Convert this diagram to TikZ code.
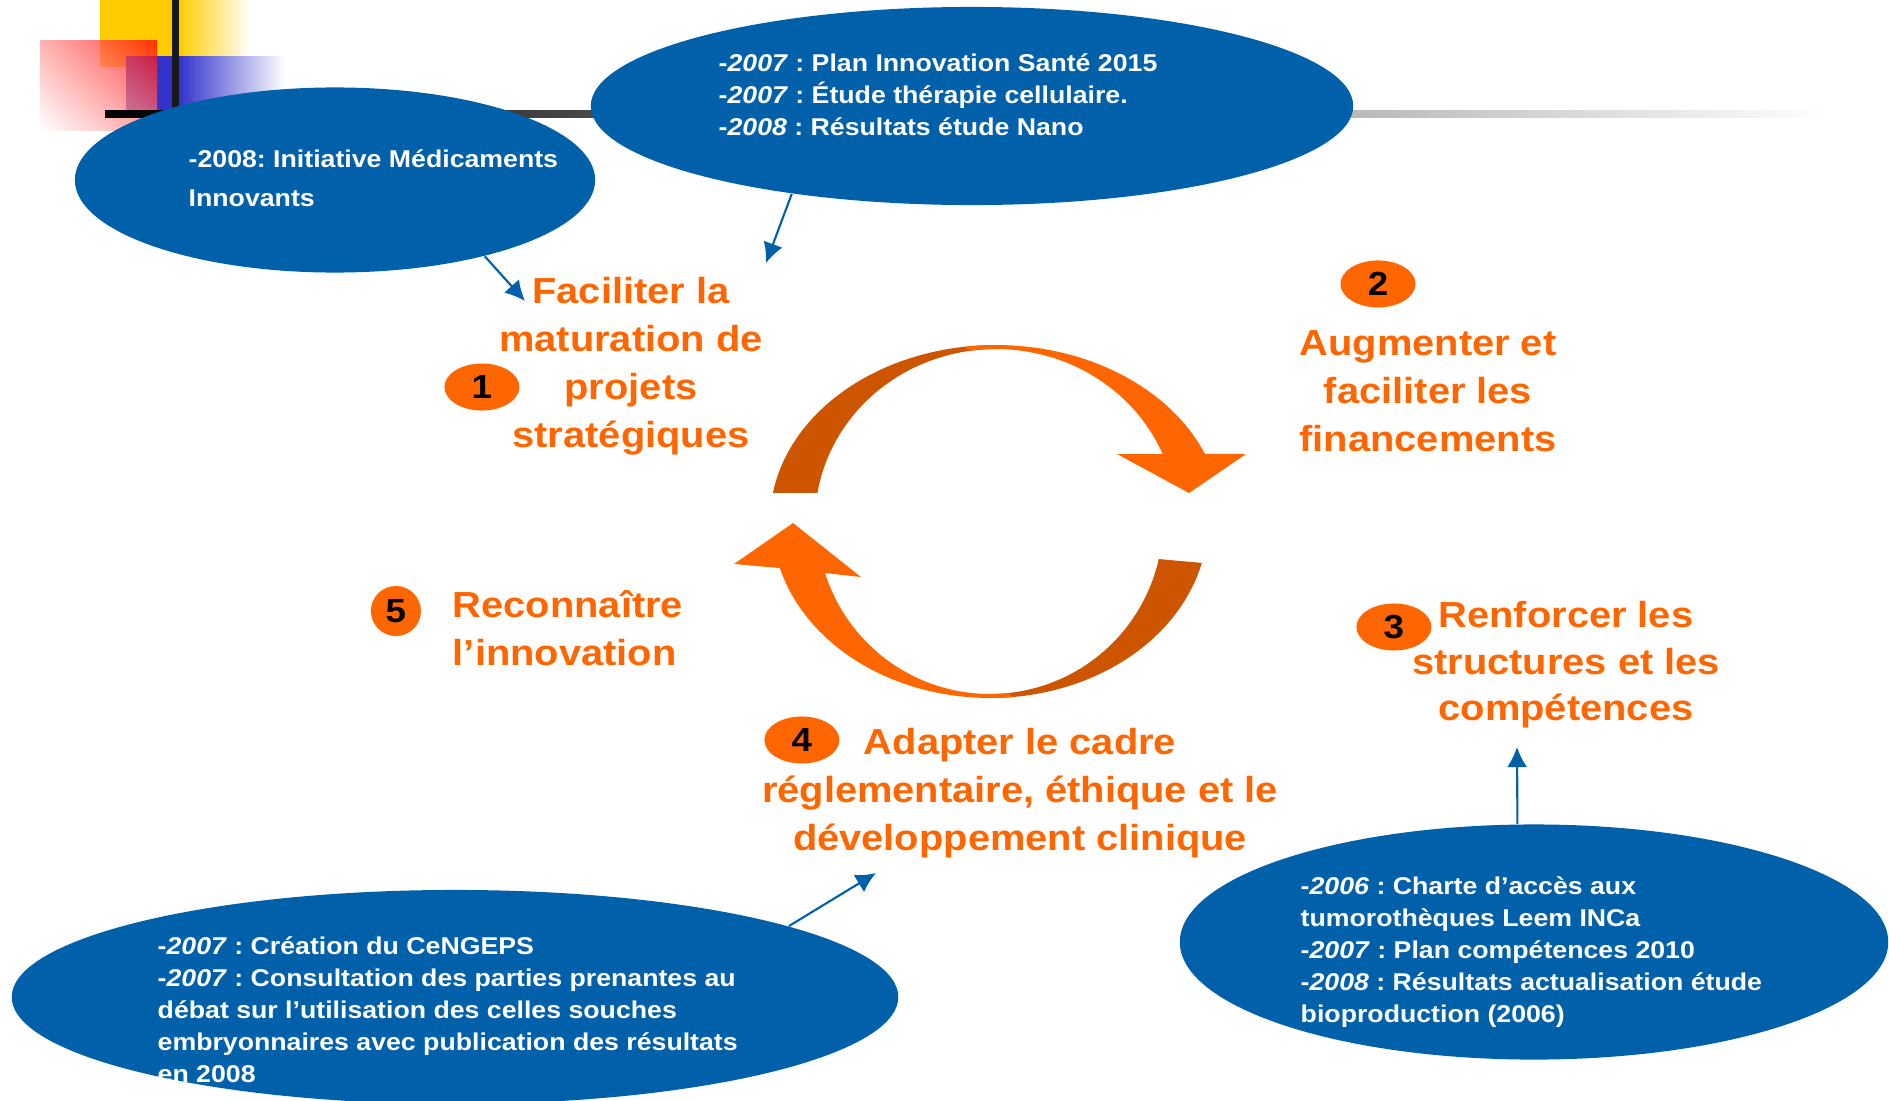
\documentclass[tikz,border=0pt]{standalone}
\usepackage{fontspec}
\setmainfont{Liberation Sans}[FakeStretch=1.1]
\usetikzlibrary{shapes.geometric, arrows.meta, positioning, shadings}
\frenchspacing

\definecolor{blobblue}{RGB}{0,96,170}
\definecolor{goalorange}{RGB}{255,102,0}
\definecolor{cycdark}{RGB}{205,85,0}
\definecolor{deckyellow}{RGB}{255,204,0}
\definecolor{deckblue}{RGB}{51,51,204}

\begin{document}
\begin{tikzpicture}[x=0.01cm, y=-0.01cm]
% one unit = one pixel of the slide, y pointing down

\tikzstyle{blob}	= [shape = ellipse, fill = blobblue, inner sep = 0] % blue bubble
\tikzstyle{note}	= [text = white, anchor = west, align = left, inner sep = 0, font = \fontsize{6.9}{9.1}\selectfont\bfseries] % text in bubble
\tikzstyle{goal}	= [text = goalorange, align = center, inner sep = 0, font = \fontsize{10.3}{13.7}\selectfont\bfseries] % orange headline
\tikzstyle{badge}	= [shape = ellipse, fill = goalorange, inner sep = 0, minimum width = 0.75cm, minimum height = 0.47cm, font = \fontsize{9.5}{9.5}\selectfont\bfseries] % number tag
\tikzstyle{link}	= [draw = blobblue, line width = 0.6pt, -{Latex[length = 0.2cm, width = 0.2cm]}] % define standard arrow

\useasboundingbox (0,0) rectangle (1889,1100);

% slide decoration top left
\fill[deckyellow] (100,0) rectangle (172,67);
\shade[left color=deckyellow, right color=white] (179,0) rectangle (250,56);
\fill[deckblue] (126,56) rectangle (172,110);
\shade[left color=deckblue, right color=white] (179,56) rectangle (285,110);
\shade[upper right=red, upper left=red!40, lower right=red!50, lower left=white, opacity=0.75] (40,40) rectangle (157,130);
\shade[left color=black, middle color=black!25, right color=white] (105,110) rectangle (1830,117);
\fill[black!90] (172,0) rectangle (179,110);

% blue bubbles
\node(e1)[blob, minimum width=5.2cm, minimum height=1.85cm] at (335,180){};
\node(e2)[blob, minimum width=7.62cm, minimum height=1.98cm] at (972,106){};
\node(e3)[blob, minimum width=8.86cm, minimum height=2.14cm] at (455,997){};
\node(e4)[blob, minimum width=7.08cm, minimum height=2.35cm] at (1534,942){};

% bubble texts
\node(n1)[note, font=\fontsize{6.9}{10.95}\selectfont\bfseries] at (188,178){-2008: Initiative Médicaments\\Innovants};
\node(n2)[note] at (718,95){-\textit{2007} : Plan Innovation Santé 2015\\-\textit{2007} : Étude thérapie cellulaire.\\-\textit{2008} : Résultats étude Nano};
\node(n3)[note] at (157,1010){-\textit{2007} : Création du CeNGEPS\\-\textit{2007} : Consultation des parties prenantes au\\débat sur l’utilisation des celles souches\\embryonnaires avec publication des résultats\\en 2008};
\node(n4)[note] at (1300,952){-\textit{2006} : Charte d’accès aux\\tumorothèques Leem INCa\\-\textit{2007} : Plan compétences 2010\\-\textit{2008} : Résultats actualisation étude\\bioproduction (2006)};

% orange headlines
\node(t1)[goal] at (631,366){Faciliter la\\maturation de\\projets\\stratégiques};
\node(t2)[goal] at (1428,391){Augmenter et\\faciliter les\\financements};
\node(t3)[goal, font=\fontsize{10.3}{13.2}\selectfont\bfseries] at (1566,665){Renforcer les\\structures et les\\compétences};
\node(t4)[goal] at (1020,793){Adapter le cadre\\réglementaire, éthique et le\\développement clinique};
\node(t5)[goal, align=left] at (568,628){Reconnaître\\l’innovation};

% number tags
\node(b1)[badge, left of=t1, node distance=1.49cm, yshift=-0.21cm]{1};
\node(b2)[badge, above of=t2, node distance=1.07cm, xshift=-0.5cm]{2};
\node(b3)[badge, left of=t3, node distance=1.72cm, yshift=0.38cm]{3};
\node(b4)[badge, left of=t4, node distance=2.18cm, yshift=0.53cm]{4};
\node(b5)[badge, minimum width=0.5cm, minimum height=0.5cm, left of=t5, node distance=1.72cm, yshift=0.17cm]{5};

% arrow tips next to the headlines
\coordinate(p1) at (525,301);
\coordinate(p2) at (766,263);
\coordinate(p3) at (876,873);
\coordinate(p4) at (1517,747);

% arrows
\draw[link](e1.333)--(p1);
\draw[link](e2.206)--(p2);
\draw[link](e3.12)--(p3);
\draw[link](e4.98)--(p4);

% cycle, upper arrow
\fill[cycdark] plot[domain=189.2:270, samples=40] ({996+226*cos(\x)},{521+176*sin(\x)})
	-- plot[domain=270:189.4, samples=40] ({996+181*cos(\x)},{521+172*sin(\x)}) -- cycle;
\fill[goalorange] plot[domain=262:337.6, samples=40] ({996+226*cos(\x)},{521+176*sin(\x)})
	-- (1246,454) -- (1189,493) -- (1117,454)
	-- plot[domain=337.1:262, samples=40] ({996+181*cos(\x)},{521+172*sin(\x)}) -- cycle;

% cycle, lower arrow
\fill[cycdark] plot[domain=13.7:90, samples=40] ({990+218*cos(\x)},{521+177*sin(\x)})
	-- plot[domain=90:12.7, samples=40] ({990+173*cos(\x)},{521+173*sin(\x)}) -- cycle;
\fill[goalorange] plot[domain=84:164.6, samples=40] ({990+218*cos(\x)},{521+177*sin(\x)})
	-- (734,564) -- (793,523) -- (861,577)
	-- plot[domain=162.5:84, samples=40] ({990+173*cos(\x)},{521+173*sin(\x)}) -- cycle;
\end{tikzpicture}
\end{document}
